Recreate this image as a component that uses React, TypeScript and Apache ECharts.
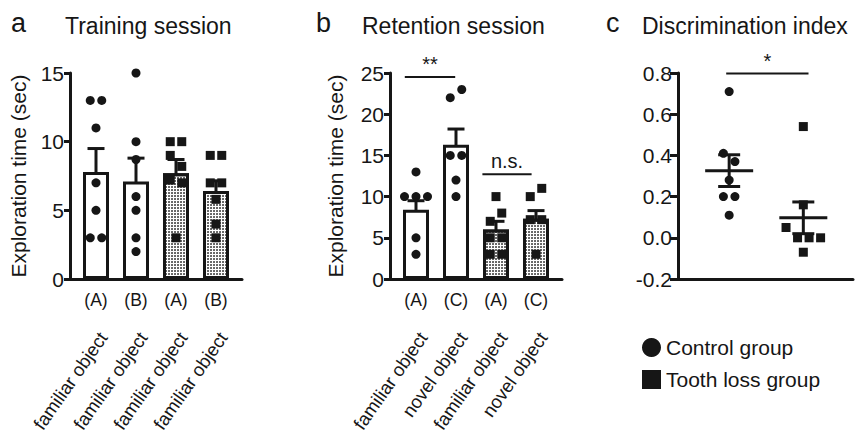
import React, { useEffect, useRef } from 'react';
import * as echarts from 'echarts';

const FONT = "'Liberation Sans', Arial, Helvetica, sans-serif";
const INK = '#161616';

// ---------- Panel a: Training session ----------
const trainCodes = ['(A)', '(B)', '(A)', '(B)'];
const trainObjects = ['familiar object', 'familiar object', 'familiar object', 'familiar object'];
const trainMeans = [7.8, 7.1, 7.7, 6.4];
const trainSem = [1.7, 1.7, 1.0, 0.75];
const trainPoints = [
  [13, 13, 11, 7, 5, 3, 3],
  [15, 10, 8.7, 6, 5, 3, 2],
  [10, 10, 9, 8.2, 7.2, 7, 3],
  [9, 9, 7, 7, 5.8, 4, 3],
];

// ---------- Panel b: Retention session ----------
const retCodes = ['(A)', '(C)', '(A)', '(C)'];
const retObjects = ['familiar object', 'novel object', 'familiar object', 'novel object'];
const retMeans = [8.4, 16.3, 6.0, 7.3];
const retSem = [1.1, 1.9, 1.0, 1.0];
const retPoints = [
  [13, 10, 10, 10, 5, 3],
  [22, 23, 15, 15, 12, 10],
  [10, 7, 8, 5, 5, 3, 3],
  [10, 11, 7.2, 7.2, 3],
];
const retSig = [
  { label: '**', x0: 0.72, x1: 1.98, y: 24.5 },
  { label: 'n.s.', x0: 2.66, x1: 3.89, y: 12.7 },
];

// ---------- Panel c: Discrimination index ----------
const groupNames = ['Control group', 'Tooth loss group'];
const discMeans = [0.326, 0.097];
const discSem = [0.077, 0.077];
const discPoints = [
  [0.71, 0.41, 0.37, 0.28, 0.2, 0.2, 0.11],
  [0.54, 0.16, 0.05, 0, 0, 0, -0.07],
];
const discSig = [{ label: '*', x0: 0.96, x1: 2.07, y: 0.797 }];

// layout
const GRID_TOP = 73;
const GRID_H = 206;
const SYMBOL = 9;

// spread coincident points horizontally (simple column scatter)
function spread(values: number[], pxPerY: number, pxPerX: number): number[] {
  const order = values.map((_, i) => i).sort((a, b) => values[b] - values[a]);
  const clusters: number[][] = [];
  for (const i of order) {
    const last = clusters[clusters.length - 1];
    if (last && Math.abs(values[last[last.length - 1]] - values[i]) * pxPerY < 11) last.push(i);
    else clusters.push([i]);
  }
  const off = new Array(values.length).fill(0);
  for (const c of clusters) {
    c.sort((a, b) => a - b);
    c.forEach((i, j) => {
      off[i] = ((j - (c.length - 1) / 2) * 11.5) / pxPerX;
    });
  }
  return off;
}

const textBase = { color: INK, fontFamily: FONT };

function errorRender(capHalf: number, meanHalf: number) {
  return (params: any, api: any) => {
    const x = api.value(0);
    const m = api.value(1);
    const s = api.value(2);
    const top = api.coord([x, m + s]);
    const bot = api.coord([x, m - s]);
    const mid = api.coord([x, m]);
    const st = { stroke: INK, lineWidth: 3 };
    const children: any[] = [
      { type: 'line', shape: { x1: top[0], y1: top[1], x2: bot[0], y2: bot[1] }, style: st },
      { type: 'line', shape: { x1: top[0] - capHalf, y1: top[1], x2: top[0] + capHalf, y2: top[1] }, style: st },
      { type: 'line', shape: { x1: bot[0] - capHalf, y1: bot[1], x2: bot[0] + capHalf, y2: bot[1] }, style: st },
    ];
    if (meanHalf > 0) {
      children.push({
        type: 'line',
        shape: { x1: mid[0] - meanHalf, y1: mid[1], x2: mid[0] + meanHalf, y2: mid[1] },
        style: st,
      });
    }
    return { type: 'group', children };
  };
}

function sigRender(list: { label: string; x0: number; x1: number; y: number }[]) {
  return (params: any, api: any) => {
    const d = list[params.dataIndex];
    const p0 = api.coord([d.x0, d.y]);
    const p1 = api.coord([d.x1, d.y]);
    return {
      type: 'group',
      children: [
        { type: 'line', shape: { x1: p0[0], y1: p0[1], x2: p1[0], y2: p1[1] }, style: { stroke: INK, lineWidth: 2 } },
        {
          type: 'text',
          x: (p0[0] + p1[0]) / 2,
          y: p0[1] - 3,
          style: { text: d.label, align: 'center', verticalAlign: 'bottom', fontSize: 20, fontFamily: FONT, fill: INK },
        },
      ],
    };
  };
}

function barPanelAxes(gridIndex: number, codes: string[], objects: string[]) {
  const base = {
    type: 'value',
    gridIndex,
    splitLine: { show: false },
    axisTick: { show: false },
    position: 'bottom',
  };
  return [
    {
      ...base,
      min: 0.35,
      max: 4.65,
      axisLine: { show: true, onZero: false, lineStyle: { color: INK, width: 3 } },
      axisLabel: {
        ...textBase,
        customValues: [1, 2, 3, 4],
        formatter: (v: number) => codes[Math.round(v) - 1],
        fontSize: 17.5,
        margin: 12,
      },
    },
    {
      // invisible companion axis carrying the slanted labels, nudged so that
      // each label's end sits over its bar
      ...base,
      min: 0.17,
      max: 4.47,
      axisLine: { show: false, onZero: false },
      axisLabel: {
        ...textBase,
        customValues: [1, 2, 3, 4],
        formatter: (v: number) => objects[Math.round(v) - 1],
        fontSize: 18.5,
        rotate: 55,
        margin: 55,
      },
    },
  ];
}

function yAxisOf(gridIndex: number, min: number, max: number, interval: number, name: string, nameGap: number, tickLen: number, fmt?: (v: number) => string) {
  return {
    type: 'value',
    gridIndex,
    min,
    max,
    interval,
    name,
    nameLocation: 'middle',
    nameGap,
    nameTextStyle: { ...textBase, fontSize: 21 },
    axisLine: { show: true, onZero: false, lineStyle: { color: INK, width: 3 } },
    axisTick: { show: true, length: tickLen, lineStyle: { color: INK, width: 3 } },
    axisLabel: { ...textBase, fontSize: 21, margin: 6, formatter: fmt },
    splitLine: { show: false },
  };
}

const plainBar = { color: '#fff', borderColor: INK, borderWidth: 3 };
const stippleBar = {
  color: '#fff',
  borderColor: INK,
  borderWidth: 3,
  decal: { symbol: 'circle', symbolSize: 0.85, color: '#222', dashArrayX: [2, 1], dashArrayY: [2, 1] },
};

function barPanelSeries(xAxisIndex: number, yAxisIndex: number, means: number[], sem: number[], points: number[][], pxPerY: number) {
  const ctrl: number[][] = [];
  const tooth: number[][] = [];
  points.forEach((vals, i) => {
    const off = spread(vals, pxPerY, 40);
    vals.forEach((v, j) => (i < 2 ? ctrl : tooth).push([i + 1 + off[j], v]));
  });
  return [
    {
      type: 'bar',
      name: 'mean',
      xAxisIndex,
      yAxisIndex,
      barWidth: 26,
      silent: true,
      data: means.map((m, i) => ({ value: [i + 1, m], itemStyle: i < 2 ? plainBar : stippleBar })),
    },
    {
      type: 'custom',
      name: 'sem',
      xAxisIndex,
      yAxisIndex,
      silent: true,
      encode: { x: 0, y: 1 },
      renderItem: errorRender(8.5, 0),
      data: means.map((m, i) => [i + 1, m, sem[i]]),
    },
    {
      type: 'scatter',
      name: groupNames[0],
      xAxisIndex,
      yAxisIndex,
      symbol: 'circle',
      symbolSize: SYMBOL,
      itemStyle: { color: INK, opacity: 1 },
      data: ctrl,
    },
    {
      type: 'scatter',
      name: groupNames[1],
      xAxisIndex,
      yAxisIndex,
      symbol: 'rect',
      symbolSize: SYMBOL,
      itemStyle: { color: INK, opacity: 1 },
      data: tooth,
    },
  ];
}

function buildOption(): any {
  const titleStyle = { ...textBase, fontWeight: 'normal', fontSize: 23 };
  const letterStyle = { ...textBase, fontWeight: 'normal', fontSize: 27 };

  const discOffC = spread(discPoints[0], 206, 74);
  const discOffT = spread(discPoints[1], 206, 74);

  return {
    animation: false,
    backgroundColor: '#fff',
    textStyle: { fontFamily: FONT },
    title: [
      { text: 'a', left: 11, top: 9, padding: 0, textStyle: letterStyle },
      { text: 'Training session', left: 65, top: 14, padding: 0, textStyle: titleStyle },
      { text: 'b', left: 316, top: 9, padding: 0, textStyle: letterStyle },
      { text: 'Retention session', left: 362, top: 14, padding: 0, textStyle: titleStyle },
      { text: 'c', left: 606, top: 9, padding: 0, textStyle: letterStyle },
      { text: 'Discrimination index', left: 642, top: 14, padding: 0, textStyle: titleStyle },
    ],
    legend: {
      orient: 'vertical',
      left: 637,
      top: 332,
      itemWidth: 19,
      itemHeight: 19,
      itemGap: 11,
      selectedMode: false,
      itemStyle: { opacity: 1 },
      textStyle: { ...textBase, fontSize: 21 },
      data: [
        { name: groupNames[0], icon: 'circle' },
        { name: groupNames[1], icon: 'rect' },
      ],
    },
    grid: [
      { left: 70, top: GRID_TOP, width: 172, height: GRID_H },
      { left: 390, top: GRID_TOP, width: 172, height: GRID_H },
      { left: 678, top: GRID_TOP, width: 175, height: GRID_H },
    ],
    xAxis: [
      ...barPanelAxes(0, trainCodes, trainObjects),
      ...barPanelAxes(1, retCodes, retObjects),
      {
        type: 'value',
        gridIndex: 2,
        min: 0.31,
        max: 2.67,
        position: 'bottom',
        splitLine: { show: false },
        axisTick: { show: false },
        axisLabel: { show: false },
        axisLine: { show: true, onZero: false, lineStyle: { color: INK, width: 3 } },
      },
    ],
    yAxis: [
      yAxisOf(0, 0, 15, 5, 'Exploration time (sec)', 41, 6),
      yAxisOf(1, 0, 25, 5, 'Exploration time (sec)', 44, 6),
      yAxisOf(2, -0.2, 0.8, 0.2, '', 0, 8, (v: number) => v.toFixed(1)),
    ],
    series: [
      ...barPanelSeries(0, 0, trainMeans, trainSem, trainPoints, GRID_H / 15),
      ...barPanelSeries(2, 1, retMeans, retSem, retPoints, GRID_H / 25),
      {
        type: 'custom',
        name: 'sig-b',
        xAxisIndex: 2,
        yAxisIndex: 1,
        silent: true,
        encode: { x: 0, y: 1 },
        renderItem: sigRender(retSig),
        data: retSig.map((d) => [d.x0, d.y]),
      },
      {
        type: 'custom',
        name: 'sem-c',
        xAxisIndex: 4,
        yAxisIndex: 2,
        silent: true,
        encode: { x: 0, y: 1 },
        renderItem: errorRender(11, 24),
        data: discMeans.map((m, i) => [i + 1, m, discSem[i]]),
      },
      {
        type: 'scatter',
        name: groupNames[0],
        xAxisIndex: 4,
        yAxisIndex: 2,
        symbol: 'circle',
        symbolSize: SYMBOL,
        itemStyle: { color: INK, opacity: 1 },
        data: discPoints[0].map((v, j) => [1 + discOffC[j], v]),
      },
      {
        type: 'scatter',
        name: groupNames[1],
        xAxisIndex: 4,
        yAxisIndex: 2,
        symbol: 'rect',
        symbolSize: SYMBOL,
        itemStyle: { color: INK, opacity: 1 },
        data: discPoints[1].map((v, j) => [2 + discOffT[j], v]),
      },
      {
        type: 'custom',
        name: 'sig-c',
        xAxisIndex: 4,
        yAxisIndex: 2,
        silent: true,
        encode: { x: 0, y: 1 },
        renderItem: sigRender(discSig),
        data: discSig.map((d) => [d.x0, d.y]),
      },
    ],
  };
}

export default function App() {
  const ref = useRef<HTMLDivElement>(null);
  useEffect(() => {
    if (!ref.current) return;
    const chart = echarts.init(ref.current, null, { renderer: 'svg' });
    chart.setOption(buildOption());
    return () => chart.dispose();
  }, []);
  return (
    <div
      ref={ref}
      style={{ position: 'fixed', left: 0, top: 0, width: 860, height: 445, background: '#fff' }}
    />
  );
}
